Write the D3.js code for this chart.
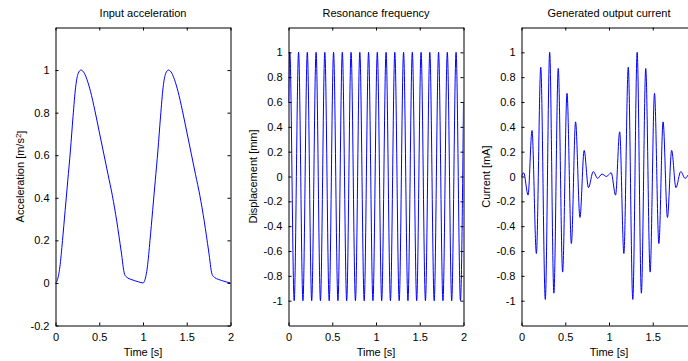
<!DOCTYPE html>
<html><head><meta charset="utf-8">
<script src="https://cdn.jsdelivr.net/npm/d3@7"></script>
<style>
html,body{margin:0;padding:0;background:#fff;}
svg{display:block;}
text{font-family:"Liberation Sans",Arial,Helvetica,sans-serif;fill:#000;}
</style></head>
<body>
<svg id="chart" width="688" height="361"></svg>
<script>
// ---- Data ----
const titles = ["Input acceleration", "Resonance frequency", "Generated output current"];
const yLabels = ["Acceleration [m/s", "Displacement [mm]", "Current [mA]"];
const xLabel = "Time [s]";
const xTicks = [0, 0.5, 1, 1.5, 2];
const yTicksAcc = [-0.2, 0, 0.2, 0.4, 0.6, 0.8, 1];
const yTicksSym = [-1, -0.8, -0.6, -0.4, -0.2, 0, 0.2, 0.4, 0.6, 0.8, 1];

// Input acceleration (two pulses)
const accT = [0, 0.02, 0.05, 0.08, 0.11, 0.14, 0.17, 0.2, 0.23, 0.26, 0.29, 0.33, 0.36, 0.4, 0.45, 0.5, 0.55, 0.6, 0.65, 0.7, 0.75, 0.79, 0.82, 0.86, 0.9, 0.95, 1.0,
              1.02, 1.05, 1.08, 1.11, 1.14, 1.17, 1.2, 1.23, 1.26, 1.29, 1.33, 1.36, 1.4, 1.45, 1.5, 1.55, 1.6, 1.65, 1.7, 1.75, 1.79, 1.82, 1.86, 1.9, 1.95, 2.0];
const accV = [0, 0.012, 0.075, 0.2, 0.34, 0.48, 0.62, 0.78, 0.92, 0.985, 1.0, 0.985, 0.955, 0.9, 0.81, 0.71, 0.61, 0.51, 0.41, 0.29, 0.15, 0.04, 0.025, 0.017, 0.011, 0.005, 0,
              0.012, 0.075, 0.2, 0.34, 0.48, 0.62, 0.78, 0.92, 0.985, 1.0, 0.985, 0.955, 0.9, 0.81, 0.71, 0.61, 0.51, 0.41, 0.29, 0.15, 0.04, 0.025, 0.017, 0.011, 0.005, 0];

// Resonance displacement: start, alternating extremes, end
const dispT = [0, 0.015, 0.065, 0.115, 0.165, 0.215, 0.265, 0.315, 0.365, 0.415, 0.465, 0.515, 0.565, 0.615, 0.665, 0.715, 0.765, 0.815, 0.865, 0.915, 0.965,
               1.015, 1.065, 1.115, 1.165, 1.215, 1.265, 1.315, 1.365, 1.415, 1.465, 1.515, 1.565, 1.615, 1.665, 1.715, 1.765, 1.815, 1.865, 1.915, 1.965, 2.0];
const dispV = [0.6, 1, -1, 1, -1, 1, -1, 1, -1, 1, -1, 1, -1, 1, -1, 1, -1, 1, -1, 1, -1,
               1, -1, 1, -1, 1, -1, 1, -1, 1, -1, 1, -1, 1, -1, 1, -1, 1, -1, 1, -1, 0.6];

// Generated current: extremes of the oscillation
const curT = [0, 0.025, 0.075, 0.12, 0.17, 0.22, 0.272, 0.322, 0.37, 0.42, 0.47, 0.52, 0.57, 0.618, 0.668, 0.716, 0.765, 0.82, 0.87, 0.92, 0.97, 1.025,
              1.075, 1.122, 1.17, 1.22, 1.272, 1.322, 1.37, 1.42, 1.47, 1.52, 1.57, 1.618, 1.668, 1.716, 1.765, 1.82, 1.87, 1.92, 1.97, 2.0];
const curV = [0, 0.03, -0.15, 0.37, -0.62, 0.88, -0.99, 1.0, -0.94, 0.87, -0.77, 0.67, -0.54, 0.44, -0.33, 0.21, -0.09, 0.04, -0.015, 0.02, 0.0, 0.03,
              -0.15, 0.36, -0.62, 0.88, -0.99, 1.0, -0.94, 0.87, -0.77, 0.67, -0.54, 0.44, -0.33, 0.21, -0.09, 0.04, -0.015, 0.02, 0.0, 0.01];

// ---- Drawing ----
const svg = d3.select("#chart");
const topY = 27.5, bottomY = 325.5, plotW = 175;
const lefts = [55.5, 288.5, 521.5];

const panels = [
  {t: accT, v: accV, dom: [-0.2, 1.2], yt: yTicksAcc},
  {t: dispT, v: dispV, dom: [-1.2, 1.2], yt: yTicksSym},
  {t: curT, v: curV, dom: [-1.2, 1.2], yt: yTicksSym}
];

const fmt = d => String(d);

panels.forEach((p, i) => {
  const x0 = lefts[i];
  const x = d3.scaleLinear().domain([0, 2]).range([x0, x0 + plotW]);
  const y = d3.scaleLinear().domain(p.dom).range([bottomY, topY]);
  const g = svg.append("g");

  const clipId = "clip" + i;
  svg.append("clipPath").attr("id", clipId).append("rect")
    .attr("x", x0).attr("y", topY).attr("width", plotW).attr("height", bottomY - topY);

  const pts = p.t.map((t, k) => [t, p.v[k]]);
  g.append("path").datum(pts)
    .attr("clip-path", `url(#${clipId})`)
    .attr("fill", "none").attr("stroke", "#0000ff").attr("stroke-width", 1)
    .attr("d", d3.line().x(d => x(d[0])).y(d => y(d[1])).curve(d3.curveMonotoneX));

  const styleAxis = sel => {
    sel.selectAll("path.domain").attr("stroke", "#000");
    sel.selectAll(".tick line").attr("stroke", "#000");
    sel.selectAll("text").attr("font-size", 11).attr("fill", "#000")
      .attr("font-family", '"Liberation Sans",Arial,sans-serif');
  };

  // the last panel runs past the window edge, so its "2" label is not visible
  const xFmt = d => (x(d) + 6 > 688 ? "" : fmt(d));

  g.append("g").attr("transform", `translate(0,${bottomY})`)
    .call(d3.axisBottom(x).tickValues(xTicks).tickFormat(xFmt).tickSizeInner(-3).tickSizeOuter(0).tickPadding(8))
    .call(styleAxis);
  g.append("g").attr("transform", `translate(0,${topY})`)
    .call(d3.axisTop(x).tickValues(xTicks).tickFormat("").tickSizeInner(-3).tickSizeOuter(0))
    .call(styleAxis);
  g.append("g").attr("transform", `translate(${x0},0)`)
    .call(d3.axisLeft(y).tickValues(p.yt).tickFormat(fmt).tickSizeInner(-3).tickSizeOuter(0).tickPadding(6))
    .call(styleAxis);
  g.append("g").attr("transform", `translate(${x0 + plotW},0)`)
    .call(d3.axisRight(y).tickValues(p.yt).tickFormat("").tickSizeInner(-3).tickSizeOuter(0))
    .call(styleAxis);

  const cx = x0 + plotW / 2;
  svg.append("text").attr("x", cx).attr("y", 17).attr("text-anchor", "middle")
    .attr("font-size", 11).text(titles[i]);
  svg.append("text").attr("x", cx).attr("y", 356).attr("text-anchor", "middle")
    .attr("font-size", 11).text(xLabel);

  const lx = [20, 253, 486][i];
  const yl = svg.append("text")
    .attr("transform", `translate(${lx},${(topY + bottomY) / 2}) rotate(-90)`)
    .attr("text-anchor", "middle").attr("dy", "0.35em").attr("font-size", 11);
  yl.append("tspan").text(yLabels[i]);
  if (i === 0) {
    yl.append("tspan").attr("dy", "-0.4em").attr("font-size", 8).text("2");
    yl.append("tspan").attr("dy", "0.4em").text("]");
  }
});
</script>
</body></html>
